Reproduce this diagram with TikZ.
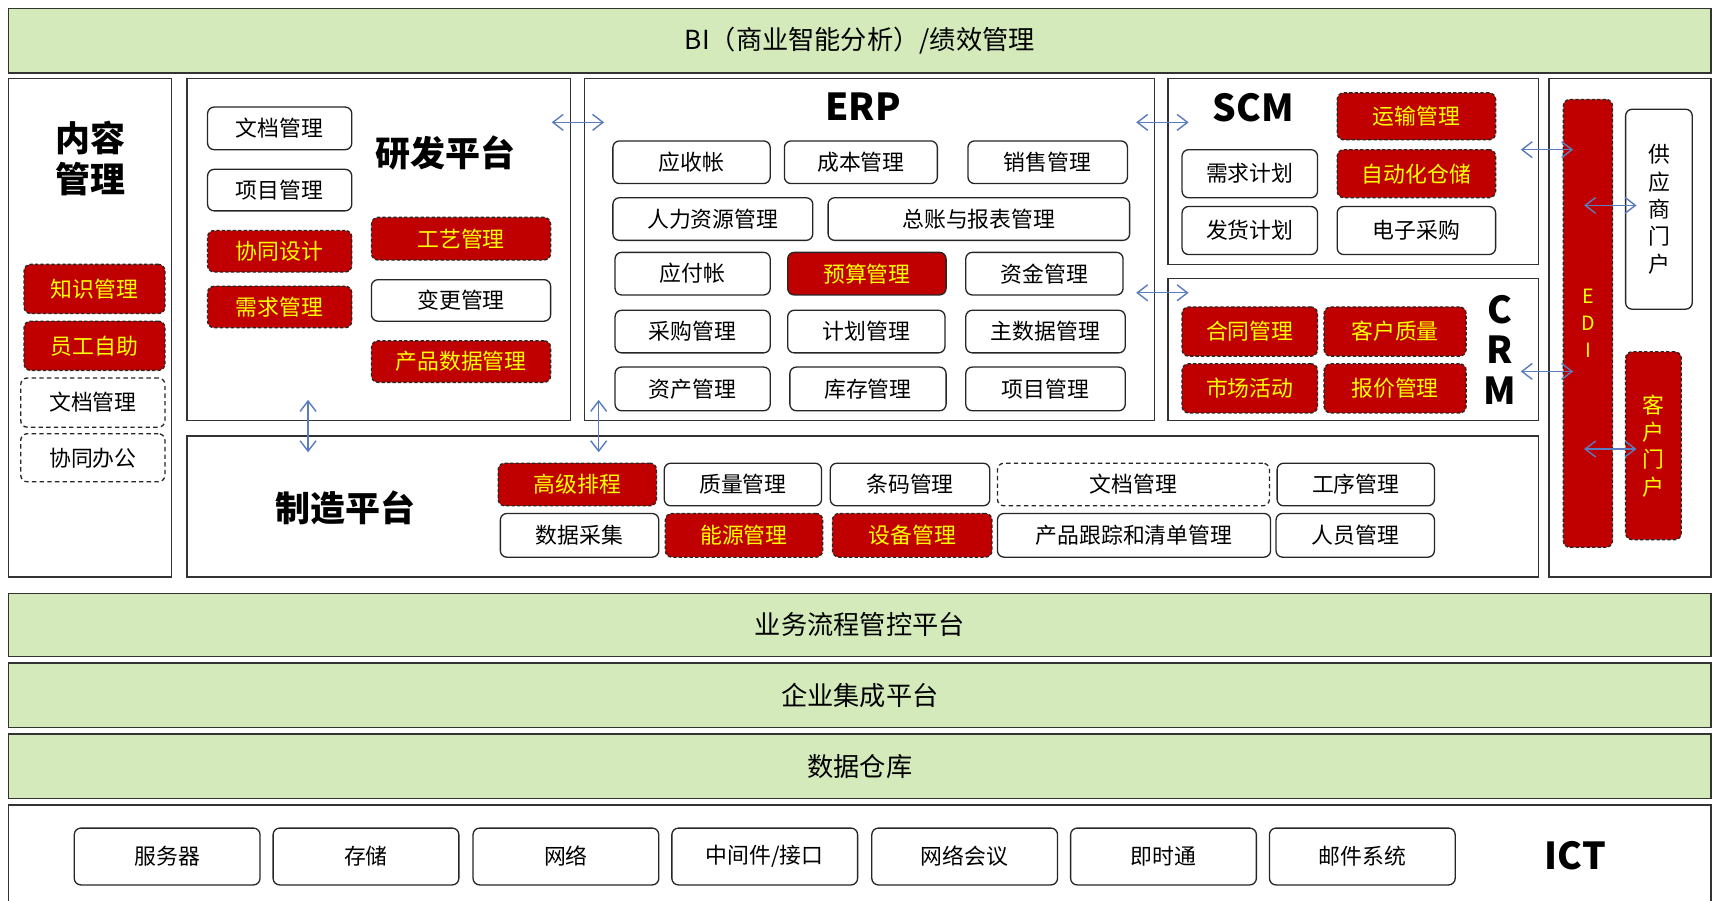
\documentclass[tikz,border=0pt]{standalone}
\usepackage{fontspec}
\setmainfont{Noto Sans CJK SC}
\usetikzlibrary{arrows.meta}

\definecolor{bargreen}{RGB}{212,234,186}
\definecolor{boxred}{RGB}{192,0,0}
\definecolor{arrblue}{RGB}{91,124,190}
\definecolor{txtyellow}{RGB}{255,255,0}

\tikzset{
  zone/.style={draw=black!80, line width=1.3pt, inner sep=0pt},
  gbar/.style={zone, fill=bargreen, font=\fontsize{24}{26}\selectfont},
  mod/.style={draw=black!85, line width=1.2pt, rounded corners=6pt, fill=white,
              inner sep=0pt, font=\fontsize{20}{22}\selectfont},
  hot/.style={mod, fill=boxred, text=txtyellow, dash pattern=on 3pt off 2pt},
  budget/.style={mod, fill=boxred, text=txtyellow},
  plan/.style={mod, dash pattern=on 4pt off 3pt},
  ttl/.style={font=\bfseries\fontsize{32}{37}\selectfont, align=center},
  big/.style={font=\bfseries\fontsize{34}{37}\selectfont, align=center},
  sz/.style 2 args={minimum width=#1pt, minimum height=#2pt},
  link/.style={{Straight Barb[angle=75:12pt]}-{Straight Barb[angle=75:12pt]},
               draw=arrblue, line width=1.3pt},
}

\begin{document}
\begin{tikzpicture}[x=1pt, y=-1pt]

            \useasboundingbox (0,0) rectangle (1568,824);
            \clip (0,0) rectangle (1568,824);

            % layers
            \path   (787,37.5)   node (bi)  [gbar, sz={1558}{59}] {BI（商业智能分析）/绩效管理}
                    (787,572)    node (bpm) [gbar, sz={1558}{58}] {业务流程管控平台}
                    (787,636.5)  node (eai) [gbar, sz={1558}{59}] {企业集成平台}
                    (787,701.5)  node (dw)  [gbar, sz={1558}{59}] {数据仓库}
                    (787,790)    node (ict) [zone, fill=white, sz={1558}{106}] {};

            % platforms
            \path   (82.5,300)    node (cms) [zone, sz={149}{456}] {}
                    (346.5,228.5) node (rd)  [zone, sz={351}{313}] {}
                    (796,228.5)   node (erp) [zone, sz={522}{313}] {}
                    (1238.5,157)  node (scm) [zone, sz={339}{170}] {}
                    (1238.5,320)  node (crm) [zone, sz={339}{130}] {}
                    (789.5,463.5) node (mfg) [zone, sz={1237}{129}] {}
                    (1492,300)    node (ext) [zone, sz={148}{456}] {};

            % content management
            \path   (83,145)      node (cmsT) [ttl] {内容\\管理}
                    (86.5,264.5)  node (km)   [hot, sz={129}{45}] {知识管理}
                    (86.5,316.5)  node (ess)  [hot, sz={129}{45}] {员工自助}
                    (85,368.5)    node (doc1) [plan, sz={132}{45}] {文档管理}
                    (85,419)      node (oa)   [plan, sz={132}{44}] {协同办公};

            % R&D
            \path   (408,140)     node (rdT)  [ttl] {研发平台}
                    (256,117.5)   node (doc2) [mod, sz={132}{39}] {文档管理}
                    (256,174)     node (prj1) [mod, sz={132}{38}] {项目管理}
                    (256,230)     node (cd)   [hot, sz={132}{38}] {协同设计}
                    (256,281)     node (req)  [hot, sz={132}{38}] {需求管理}
                    (422,218.5)   node (proc) [hot, sz={164}{39}] {工艺管理}
                    (422,275)     node (chg)  [mod, sz={164}{38}] {变更管理}
                    (422,331)     node (pdm)  [hot, sz={164}{38}] {产品数据管理};

            % ERP
            \path   (790,98)      node (erpT) [big] {ERP}
                    (633,148.5)   node (ar)   [mod, sz={144}{39}] {应收帐}
                    (788,148.5)   node (cost) [mod, sz={140}{39}] {成本管理}
                    (959,148.5)   node (sale) [mod, sz={146}{39}] {销售管理}
                    (652.5,200.5) node (hr)   [mod, sz={183}{39}] {人力资源管理}
                    (896,200.5)   node (gl)   [mod, sz={276}{39}] {总账与报表管理}
                    (634,250.5)   node (ap)   [mod, sz={142}{39}] {应付帐}
                    (793.5,250.5) node (bud)  [budget, sz={145}{39}] {预算管理}
                    (956,250.5)   node (fund) [mod, sz={144}{39}] {资金管理}
                    (634,303.5)   node (pur)  [mod, sz={142}{39}] {采购管理}
                    (793,303.5)   node (pln)  [mod, sz={144}{39}] {计划管理}
                    (957,303.5)   node (mdm)  [mod, sz={146}{39}] {主数据管理}
                    (634,356)     node (ast)  [mod, sz={142}{40}] {资产管理}
                    (794.5,356)   node (inv)  [mod, sz={143}{40}] {库存管理}
                    (957,356)     node (prj2) [mod, sz={146}{40}] {项目管理};

            % SCM
            \path   (1147,99)     node (scmT) [big] {SCM}
                    (1296.5,106.5) node (tms) [hot, sz={145}{43}] {运输管理}
                    (1144,159)    node (dp)   [mod, sz={124}{44}] {需求计划}
                    (1296.5,159)  node (wms)  [hot, sz={145}{44}] {自动化仓储}
                    (1144,211)    node (sp)   [mod, sz={124}{44}] {发货计划}
                    (1296.5,211)  node (ep)   [mod, sz={145}{44}] {电子采购};

            % CRM
            \path   (1373,320)    node (crmT) [big] {C\\R\\M}
                    (1144,303.5)  node (ctr)  [hot, sz={124}{45}] {合同管理}
                    (1277,303.5)  node (cq)   [hot, sz={130}{45}] {客户质量}
                    (1144,355.5)  node (mkt)  [hot, sz={124}{45}] {市场活动}
                    (1277,355.5)  node (quo)  [hot, sz={130}{45}] {报价管理};

            % EDI and portals
            \path   (1453.5,296)  node (edi)  [hot, sz={45}{410}, align=center,
                                               font=\fontsize{18}{25}\selectfont] {E\\D\\I}
                    (1518.5,191.5) node (srm) [mod, sz={61}{183}, align=center,
                                               font=\fontsize{20}{25}\selectfont] {供\\应\\商\\门\\户}
                    (1513.5,408)  node (cp)   [hot, sz={51}{172}, align=center,
                                               font=\fontsize{20}{25}\selectfont] {客\\户\\门\\户};

            % manufacturing
            \path   (316,465)     node (mfgT) [ttl] {制造平台}
                    (528.5,443.5) node (aps)  [hot, sz={145}{39}] {高级排程}
                    (680,443.5)   node (qm)   [mod, sz={144}{39}] {质量管理}
                    (833,443.5)   node (bc)   [mod, sz={146}{39}] {条码管理}
                    (1037.5,443.5) node (doc3) [plan, sz={249}{39}] {文档管理}
                    (1241,443.5)  node (op)   [mod, sz={144}{39}] {工序管理}
                    (530.5,490)   node (dc)   [mod, sz={145}{40}] {数据采集}
                    (681,490)     node (ems)  [hot, sz={144}{40}] {能源管理}
                    (835,490)     node (eam)  [hot, sz={146}{40}] {设备管理}
                    (1038,490)    node (trc)  [mod, sz={250}{40}] {产品跟踪和清单管理}
                    (1240.5,490)  node (hrm)  [mod, sz={145}{40}] {人员管理};

            % ICT
            \path   (153,784)     node (srv)  [mod, sz={170}{52}] {服务器}
                    (335,784)     node (sto)  [mod, sz={170}{52}] {存储}
                    (518,784)     node (net)  [mod, sz={170}{52}] {网络}
                    (700,784)     node (mw)   [mod, sz={170}{52}] {中间件/接口}
                    (883,784)     node (vc)   [mod, sz={170}{52}] {网络会议}
                    (1065,784)    node (im)   [mod, sz={170}{52}] {即时通}
                    (1247,784)    node (mail) [mod, sz={170}{52}] {邮件系统}
                    (1442,783)    node (ictT) [big] {ICT};

            % arrow ends
            \coordinate (rdE)  at (505,112);   \coordinate (erpW) at (553,112);
            \coordinate (erpE) at (1040,112);  \coordinate (scmW) at (1088,112);
            \coordinate (erpF) at (1040,268);  \coordinate (crmW) at (1088,268);
            \coordinate (rdS)  at (282,366);   \coordinate (mfgN) at (282,414);
            \coordinate (erpS) at (548,366);   \coordinate (mfgM) at (548,414);
            \coordinate (scmE) at (1392,137);  \coordinate (ediA) at (1440,137);
            \coordinate (crmE) at (1392,340);  \coordinate (ediB) at (1440,340);
            \coordinate (ediC) at (1450,188);  \coordinate (srmW) at (1498,188);
            \coordinate (ediD) at (1450,411);  \coordinate (cpW)  at (1498,411);

            \draw[link] (rdE) -- (erpW);
            \draw[link] (erpE) -- (scmW);
            \draw[link] (erpF) -- (crmW);
            \draw[link] (rdS) -- (mfgN);
            \draw[link] (erpS) -- (mfgM);
            \draw[link] (scmE) -- (ediA);
            \draw[link] (crmE) -- (ediB);
            \draw[link] (ediC) -- (srmW);
            \draw[link] (ediD) -- (cpW);
        \end{tikzpicture}
\end{document}
